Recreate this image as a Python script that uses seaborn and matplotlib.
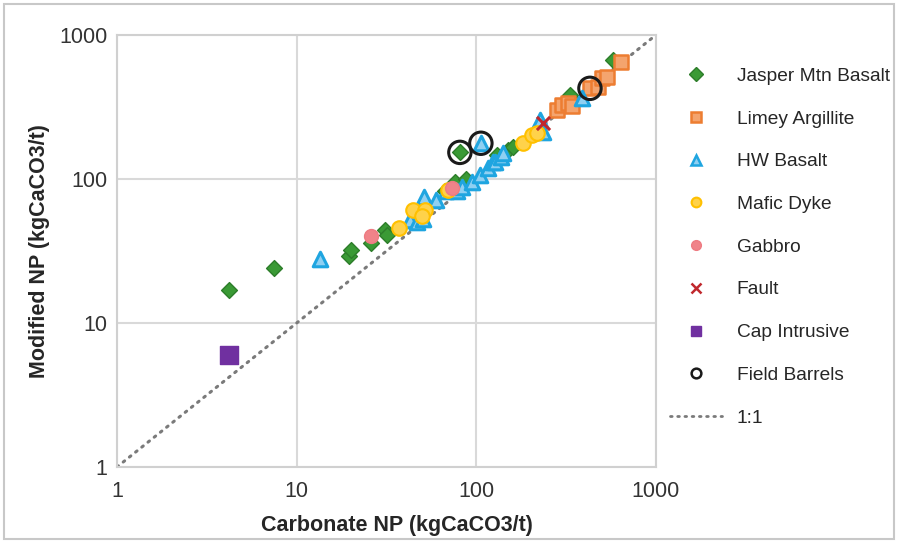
import matplotlib
matplotlib.use("Agg")
import matplotlib.pyplot as plt
from matplotlib.lines import Line2D
from matplotlib.patches import Rectangle
import pandas as pd
import seaborn as sns

# values (kgCaCO3/t)
jasper_x = [4.2, 7.5, 19.5, 20, 26, 31, 32, 67, 76, 81, 88, 130, 150, 160, 331, 580]
jasper_y = [17, 24, 29, 32, 36, 44, 41, 82, 95, 153, 100, 147, 159, 167, 383, 670]
limey_x = [280, 298, 325, 340, 429, 477, 498, 531, 640]
limey_y = [301, 327, 336, 322, 426, 438, 500, 514, 650]
hw_x = [13.5, 42.7, 46.5, 50.6, 51, 60, 68, 78, 83, 94, 105, 106, 116, 124, 127, 138, 141, 217, 226, 236, 385]
hw_y = [28, 52, 50.5, 53, 75, 72, 82, 82, 88, 96, 107, 177, 119, 132, 132, 143, 151, 219, 257, 213, 363]
mafic_x = [37, 44.5, 51.6, 49.6, 70, 182, 203, 217]
mafic_y = [46, 61, 61, 55, 84, 177, 202, 208]
gabbro_x = [26, 73]
gabbro_y = [40, 87]
fault_x = [236]
fault_y = [244]
cap_x = [4.2]
cap_y = [6]
barrel_x = [81, 106, 429]
barrel_y = [153, 177, 426]
one_to_one = [1, 1000]
ticks = [1, 10, 100, 1000]
tick_labels = ["1", "10", "100", "1000"]

groups = [
    ("Jasper Mtn Basalt", jasper_x, jasper_y),
    ("Limey Argillite", limey_x, limey_y),
    ("HW Basalt", hw_x, hw_y),
    ("Mafic Dyke", mafic_x, mafic_y),
    ("Gabbro", gabbro_x, gabbro_y),
    ("Fault", fault_x, fault_y),
    ("Cap Intrusive", cap_x, cap_y),
    ("Field Barrels", barrel_x, barrel_y),
]
df = pd.concat(
    [pd.DataFrame({"carb": x, "mod": y, "rock": name}) for name, x, y in groups],
    ignore_index=True,
)

# marker, size, face, edge, edge width
styles = {
    "Jasper Mtn Basalt": ("D", 65, "#3a9a35", "#2d7d2a", 1.0),
    "Limey Argillite": ("s", 110, "#f4a46e", "#ed7d31", 1.8),
    "HW Basalt": ("^", 110, "#8fd0f2", "#1fa5e0", 2.2),
    "Mafic Dyke": ("o", 110, "#ffd24a", "#ffc000", 1.5),
    "Gabbro": ("o", 100, "#f08389", "#ee7b82", 1.0),
    "Fault": ("x", 90, "#c0282d", "#c0282d", 2.2),
    "Cap Intrusive": ("s", 150, "#7030a0", "#7030a0", 1.0),
    "Field Barrels": ("o", 260, "none", "#1a1a1a", 2.2),
}

sns.set_theme(style="white")
plt.rcParams["font.family"] = ["Liberation Sans", "DejaVu Sans"]
plt.rcParams["font.size"] = 15.5

fig = plt.figure(figsize=(8.98, 5.43), dpi=100)
ax = fig.add_axes([0.1303, 0.140, 0.6002, 0.7956])

ax.plot(one_to_one, one_to_one, color="#7a7a7a", linestyle=(0, (0.6, 2.0)),
        linewidth=2.2, dash_capstyle="round", zorder=1)

for name, _, _ in groups:
    m, s, fc, ec, lw = styles[name]
    sub = df[df["rock"] == name]
    sns.scatterplot(data=sub, x="carb", y="mod", marker=m, s=s, color=fc,
                    edgecolor=ec if m != "x" else None, linewidth=lw, ax=ax,
                    zorder=3, legend=False)

ax.set_xscale("log")
ax.set_yscale("log")
ax.set_xlim(1, 1000)
ax.set_ylim(1, 1000)
ax.set_xticks(ticks)
ax.set_xticklabels(tick_labels)
ax.set_yticks(ticks)
ax.set_yticklabels(tick_labels)
ax.minorticks_off()
ax.tick_params(axis="both", length=0, labelsize=15.5, colors="#333333")
ax.tick_params(axis="x", pad=10)
ax.tick_params(axis="y", pad=7)
ax.grid(True, color="#d9d9d9", linewidth=1.5)
ax.set_axisbelow(True)
for sp in ax.spines.values():
    sp.set_color("#d0d0d0")
    sp.set_linewidth(1.5)

ax.set_xlabel("Carbonate NP (kgCaCO3/t)", fontsize=15.5, fontweight="bold",
              color="#262626")
ax.xaxis.set_label_coords(0.52, -0.11)
ax.set_ylabel("Modified NP (kgCaCO3/t)", fontsize=15.5, fontweight="bold",
              color="#262626")
ax.yaxis.set_label_coords(-0.125, 0.5)

handles = []
for name, _, _ in groups:
    m, s, fc, ec, lw = styles[name]
    handles.append(Line2D([], [], linestyle="none", marker=m, markersize=7,
                          markerfacecolor=fc, markeredgecolor=ec,
                          markeredgewidth=min(lw, 1.8), label=name))
handles.append(Line2D([], [], color="#7a7a7a", linestyle=(0, (0.6, 2.0)),
                      linewidth=2.0, dash_capstyle="round", label="1:1"))

fig.legend(handles=handles, loc="upper left", bbox_to_anchor=(0.746, 0.8757),
           frameon=False, fontsize=13.8, handlelength=2.7, handletextpad=0.78,
           labelspacing=1.32, borderpad=0, borderaxespad=0)

fig.add_artist(Rectangle((0.004, 0.007), 0.991, 0.986, transform=fig.transFigure,
                         fill=False, edgecolor="#c8c8c8", linewidth=1.5))

fig.savefig("out.png", dpi=100)
